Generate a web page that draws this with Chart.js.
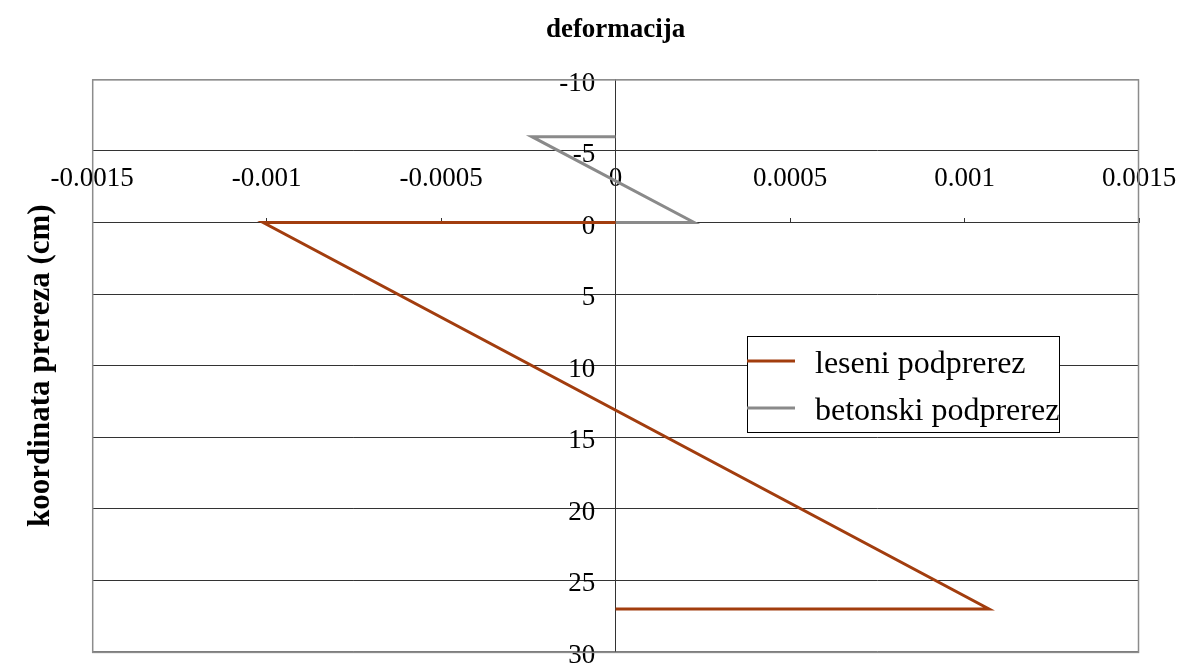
<!DOCTYPE html>
<html>
<head>
<meta charset="utf-8">
<script src="https://cdn.jsdelivr.net/npm/chart.js@4/dist/chart.umd.min.js"></script>
<style>
  html, body { margin: 0; padding: 0; background: #fff; }
  #wrap { width: 1180px; height: 663px; }
</style>
</head>
<body>
<div id="wrap"><canvas id="chartDeformacija"></canvas></div>
<script>
// data
const seriesNames = ['leseni podprerez', 'betonski podprerez'];
const lesenX = [0, -0.00101, 0.00107, 0];
const lesenY = [0, 0, 27, 27];
const betonX = [0, -0.00024, 0.000225, 0];
const betonY = [-6, -6, 0, 0];
const xTicks = [-0.0015, -0.001, -0.0005, 0, 0.0005, 0.001, 0.0015];
const yTicks = [-10, -5, 0, 5, 10, 15, 20, 25, 30];

const serif = "'Liberation Serif', 'Times New Roman', serif";

const toPoints = (xs, ys) => xs.map((x, i) => ({x: x, y: ys[i]}));

// frame round the plot area + boxed legend
const framePlugin = {
    id: 'frame',
    beforeDatasetsDraw(chart) {
        const {ctx, chartArea: a} = chart;
        ctx.save();
        ctx.strokeStyle = '#8c8c8c';
        ctx.lineWidth = 1.5;
        ctx.strokeRect(a.left + 0.5, a.top + 0.5, a.right - a.left - 1, a.bottom - a.top);
        ctx.restore();
    },
    afterDraw(chart) {
        const ctx = chart.ctx;
        const box = {x: 747, y: 336, w: 312, h: 96};
        ctx.save();
        ctx.fillStyle = '#fff';
        ctx.fillRect(box.x, box.y, box.w, box.h);
        ctx.strokeStyle = '#000';
        ctx.lineWidth = 1;
        ctx.strokeRect(box.x + 0.5, box.y + 0.5, box.w, box.h);
        ctx.font = '32px ' + serif;
        ctx.textBaseline = 'middle';
        ctx.fillStyle = '#000';
        chart.data.datasets.forEach((ds, i) => {
            const ly = box.y + 25 + i * 47;
            ctx.strokeStyle = ds.borderColor;
            ctx.lineWidth = 3;
            ctx.beginPath();
            ctx.moveTo(box.x, ly);
            ctx.lineTo(box.x + 48, ly);
            ctx.stroke();
            ctx.fillText(ds.label, box.x + 68, ly + 4);
        });
        ctx.restore();
    }
};

const data = {
    datasets: [{
        label: seriesNames[0],
        data: toPoints(lesenX, lesenY),
        borderColor: '#A23D0E',
        borderWidth: 3,
        showLine: true,
        pointRadius: 0,
        fill: false
    }, {
        label: seriesNames[1],
        data: toPoints(betonX, betonY),
        borderColor: '#8A8A8A',
        borderWidth: 3,
        showLine: true,
        pointRadius: 0,
        fill: false
    }]
};

const config = {
    type: 'scatter',
    data: data,
    plugins: [framePlugin],
    options: {
        responsive: true,
        maintainAspectRatio: false,
        animation: false,
        layout: { padding: { left: 18, right: 41, top: 0, bottom: 10 } },
        plugins: {
            legend: { display: false },
            tooltip: { enabled: false }
        },
        scales: {
            x: {
                type: 'linear',
                position: { y: 0 },
                min: -0.0015,
                max: 0.0015,
                afterBuildTicks: (s) => { s.ticks = xTicks.map(v => ({value: v})); },
                grid: { drawOnChartArea: false, drawTicks: true, tickLength: -5, color: '#333' },
                border: { display: true, color: '#333', width: 1 },
                ticks: {
                    maxRotation: 0,
                    autoSkip: false,
                    padding: -55,
                    color: '#000',
                    font: { family: serif, size: 27 },
                    callback: (v) => String(Number(v.toFixed(4)))
                }
            },
            xTitle: {
                type: 'linear',
                position: 'top',
                grid: { display: false, drawTicks: false },
                border: { display: false },
                ticks: { display: false },
                title: {
                    display: true,
                    text: 'deformacija',
                    color: '#000',
                    font: { family: serif, size: 27, weight: 'bold' },
                    padding: { top: 14, bottom: 33 }
                }
            },
            y: {
                type: 'linear',
                position: { x: 0 },
                reverse: true,
                min: -10,
                max: 30,
                afterBuildTicks: (s) => { s.ticks = yTicks.map(v => ({value: v})); },
                grid: {
                    drawTicks: true,
                    tickLength: 7,
                    color: (c) => {
                        if (!c.tick) return '#333';
                        if (c.tick.value === -10) return '#999';
                        if (c.tick.value === 30) return '#777';
                        return '#333';
                    }
                },
                border: { display: true, color: '#333', width: 1 },
                ticks: {
                    color: '#000',
                    font: { family: serif, size: 27, lineHeight: 0.3 },
                    callback: (v) => ['', v + '   ']
                }
            },
            yTitle: {
                type: 'linear',
                position: 'left',
                grid: { display: false, drawTicks: false },
                border: { display: false },
                ticks: { display: false },
                title: {
                    display: true,
                    text: 'koordinata prereza (cm)',
                    color: '#000',
                    font: { family: serif, size: 31, weight: 'bold' },
                    padding: { top: 4, bottom: 33 }
                }
            }
        }
    }
};

const chartDeformacija = new Chart(
    document.getElementById('chartDeformacija'),
    config
);
</script>
</body>
</html>
